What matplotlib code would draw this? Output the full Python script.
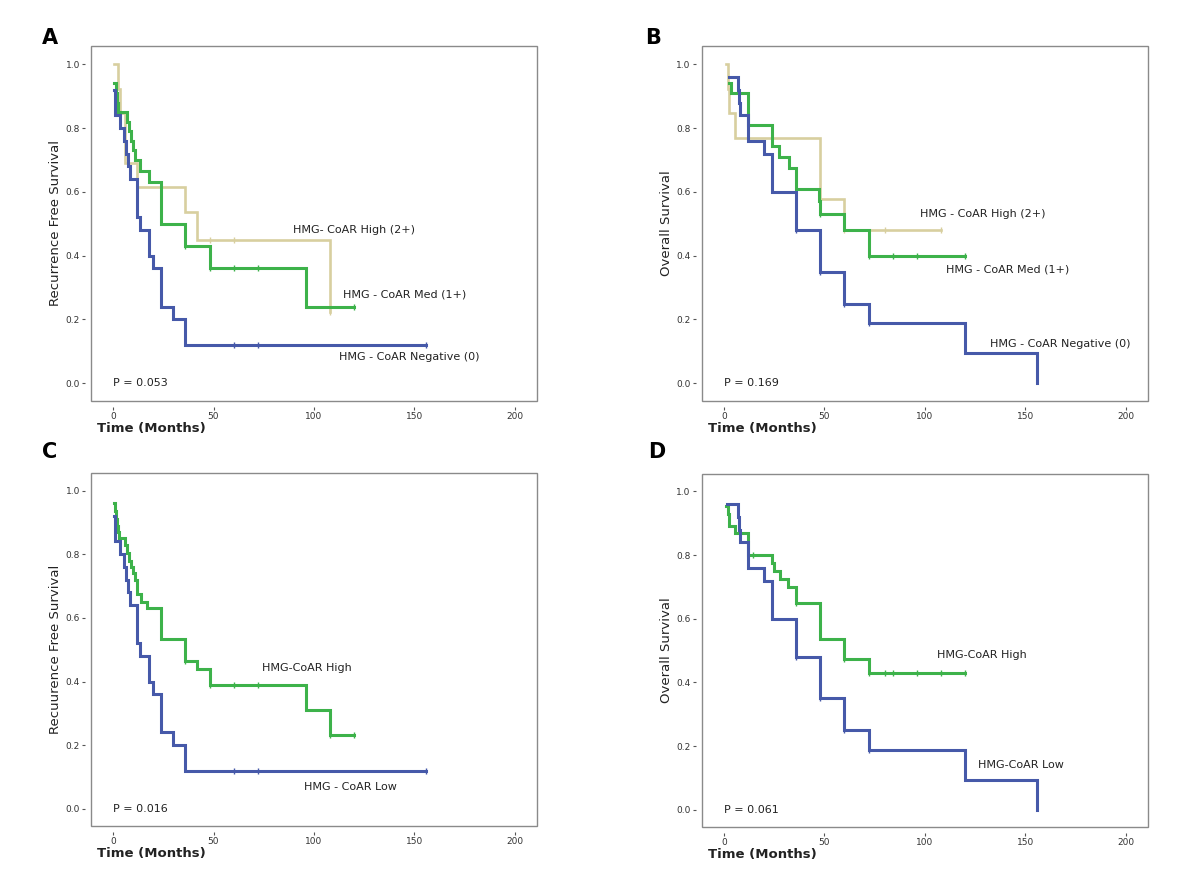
import numpy as np
import matplotlib
matplotlib.use("Agg")
import matplotlib.pyplot as plt
from matplotlib.patches import Rectangle

plt.rcParams['font.family'] = 'DejaVu Sans'

BLUE = "#4659a9"
GREEN = "#3db24a"
TAN = "#d8cf9f"

# ---- Panel A: recurrence free survival, three groups ----
a_neg_t = [0.3, 0.8, 1.2, 3.3, 5.3, 6.5, 7.3, 8.3, 12, 13.3, 18, 20, 24, 30, 36, 156]
a_neg_s = [0.92, 0.88, 0.84, 0.80, 0.76, 0.72, 0.68, 0.64, 0.52, 0.48, 0.40, 0.36, 0.24, 0.20, 0.12, 0.12]
a_neg_c = [60, 72, 156]

a_med_t = [0.7, 1.5, 2.0, 2.5, 7, 8, 9, 10, 11, 13.6, 17.7, 24, 36, 48, 96, 120]
a_med_s = [0.94, 0.91, 0.88, 0.85, 0.82, 0.79, 0.76, 0.73, 0.70, 0.665, 0.63, 0.50, 0.43, 0.36, 0.24, 0.24]
a_med_c = [36, 48, 60, 72, 120]

a_high_t = [0.5, 2.3, 3.6, 5.8, 12, 36, 42, 108]
a_high_s = [1.0, 0.923, 0.846, 0.692, 0.615, 0.538, 0.449, 0.224]
a_high_c = [48, 60, 108]

# ---- Panel B: overall survival, three groups ----
b_neg_t = [2.5, 7, 7.5, 8, 12, 20, 24, 36, 48, 60, 72, 120, 156]
b_neg_s = [0.96, 0.92, 0.88, 0.84, 0.76, 0.72, 0.60, 0.48, 0.35, 0.25, 0.1875, 0.094, 0.0]
b_neg_c = [36, 48, 60, 72]

b_med_t = [2.7, 3.8, 12, 24, 27.6, 32.6, 35.7, 47.5, 48, 60, 72, 120]
b_med_s = [0.94, 0.91, 0.81, 0.745, 0.71, 0.675, 0.61, 0.57, 0.53, 0.48, 0.40, 0.40]
b_med_c = [12, 48, 72, 84, 96, 120]

b_high_t = [1.3, 2.0, 2.7, 5.5, 48, 60, 108]
b_high_s = [1.0, 0.923, 0.846, 0.769, 0.577, 0.481, 0.481]
b_high_c = [60, 80, 108]

# ---- Panel C: recurrence free survival, high vs low ----
c_low_t = a_neg_t
c_low_s = a_neg_s
c_low_c = [60, 72, 156]

c_high_t = [0.5, 1.0, 1.5, 2.0, 2.5, 3.0, 6, 7, 8, 9, 10, 11, 12, 14, 17, 24, 36, 42, 48, 96, 108, 120]
c_high_s = [0.96, 0.935, 0.91, 0.89, 0.87, 0.85, 0.83, 0.805, 0.78, 0.76, 0.74, 0.72, 0.675,
            0.65, 0.63, 0.535, 0.465, 0.44, 0.39, 0.31, 0.233, 0.233]
c_high_c = [36, 48, 60, 72, 108, 120]

# ---- Panel D: overall survival, high vs low ----
d_low_t = [1.5, 7, 7.5, 8, 12, 20, 24, 36, 48, 60, 72, 120, 156]
d_low_s = b_neg_s
d_low_c = [36, 48, 60, 72]

d_high_t = [1.3, 2.0, 2.7, 5.5, 12, 24, 25, 28, 32, 36, 48, 60, 72, 120]
d_high_s = [0.955, 0.93, 0.89, 0.87, 0.80, 0.775, 0.75, 0.725, 0.70, 0.65, 0.535, 0.475, 0.43, 0.43]
d_high_c = [12, 14.5, 36, 60, 72, 80, 84, 96, 108, 120]

panels = [
    dict(label="A", ylabel="Recurrence Free Survival", p="P = 0.053",
         curves=[(a_high_t, a_high_s, a_high_c, TAN, 1.9),
                 (a_med_t, a_med_s, a_med_c, GREEN, 2.2),
                 (a_neg_t, a_neg_s, a_neg_c, BLUE, 2.2)],
         notes=[("HMG- CoAR High (2+)", 89.6, 0.48),
                ("HMG - CoAR Med (1+)", 114.3, 0.277),
                ("HMG - CoAR Negative (0)", 112.6, 0.082)]),
    dict(label="B", ylabel="Overall Survival", p="P = 0.169",
         curves=[(b_high_t, b_high_s, b_high_c, TAN, 1.9),
                 (b_med_t, b_med_s, b_med_c, GREEN, 2.2),
                 (b_neg_t, b_neg_s, b_neg_c, BLUE, 2.2)],
         notes=[("HMG - CoAR High (2+)", 97.8, 0.532),
                ("HMG - CoAR Med (1+)", 110.7, 0.358),
                ("HMG - CoAR Negative (0)", 132.3, 0.123)]),
    dict(label="C", ylabel="Recuurence Free Survival", p="P = 0.016",
         curves=[(c_high_t, c_high_s, c_high_c, GREEN, 2.2),
                 (c_low_t, c_low_s, c_low_c, BLUE, 2.2)],
         notes=[("HMG-CoAR High", 74, 0.441),
                ("HMG - CoAR Low", 95, 0.07)]),
    dict(label="D", ylabel="Overall Survival", p="P = 0.061",
         curves=[(d_high_t, d_high_s, d_high_c, GREEN, 2.2),
                 (d_low_t, d_low_s, d_low_c, BLUE, 2.2)],
         notes=[("HMG-CoAR High", 106, 0.487),
                ("HMG-CoAR Low", 126.3, 0.139)]),
]

# axes rectangles in figure fraction (left, bottom, width, height)
rects = [(0.0758, 0.551, 0.3717, 0.397),
         (0.5848, 0.551, 0.3717, 0.397),
         (0.0758, 0.074, 0.3717, 0.396),
         (0.5848, 0.073, 0.3717, 0.396)]
label_pos = [(50, 38), (653, 38), (50, 452), (657, 452)]

fig = plt.figure(figsize=(12, 8.92), dpi=100)

for pan, rect, lp in zip(panels, rects, label_pos):
    ax = fig.add_axes(rect)
    for t, s, cens, col, lw in pan["curves"]:
        ax.step(t, s, where="post", color=col, lw=lw, solid_joinstyle="miter")
        t_arr = np.array(t)
        s_arr = np.array(s)
        idx = np.searchsorted(t_arr, cens, side="right") - 1
        ax.plot(cens, s_arr[idx], ls="none", marker="|", ms=5, mew=1, color=col)

    for txt, x, y in pan["notes"]:
        ax.text(x, y, txt, fontsize=8, ha="left", va="center", color="#222222")
    ax.text(0, 0.0, pan["p"], fontsize=8, ha="left", va="center", color="#222222")

    ax.set_xlim(-11, 211)
    ax.set_ylim(-0.054, 1.056)
    ax.set_xticks([0, 50, 100, 150, 200])
    ax.set_yticks([0.0, 0.2, 0.4, 0.6, 0.8, 1.0])
    ax.set_yticklabels(["0.0", "0.2", "0.4", "0.6", "0.8", "1.0"])

    # SPSS-like frame: box in grey, axes with ticks detached below / left
    for side in ["top", "right", "left", "bottom"]:
        ax.spines[side].set_color("none")
    ax.spines["left"].set_position(("outward", 4.5))
    ax.spines["bottom"].set_position(("outward", 4.5))
    ax.add_patch(Rectangle((0, 0), 1, 1, transform=ax.transAxes, fill=False,
                           edgecolor="#8a8a8a", lw=1.0, clip_on=False))
    ax.tick_params(axis="both", direction="out", length=2.5, width=0.8,
                   color="#555555", labelsize=6.5, labelcolor="#333333", pad=1)

    ax.set_ylabel(pan["ylabel"], fontsize=9.5, color="#222222")
    ax.yaxis.set_label_coords(-0.065, 0.5)
    ax.set_xlabel("Time (Months)", fontsize=9.5, fontweight="bold", color="#222222")
    ax.xaxis.set_label_coords(0.013, -0.078)
    ax.xaxis.label.set_ha("left")
    ax.xaxis.label.set_va("center")

    fig.text(lp[0] / 1200, 1 - lp[1] / 892, pan["label"], fontsize=15,
             fontweight="bold", ha="center", va="center")

fig.savefig("out.png", dpi=100)
